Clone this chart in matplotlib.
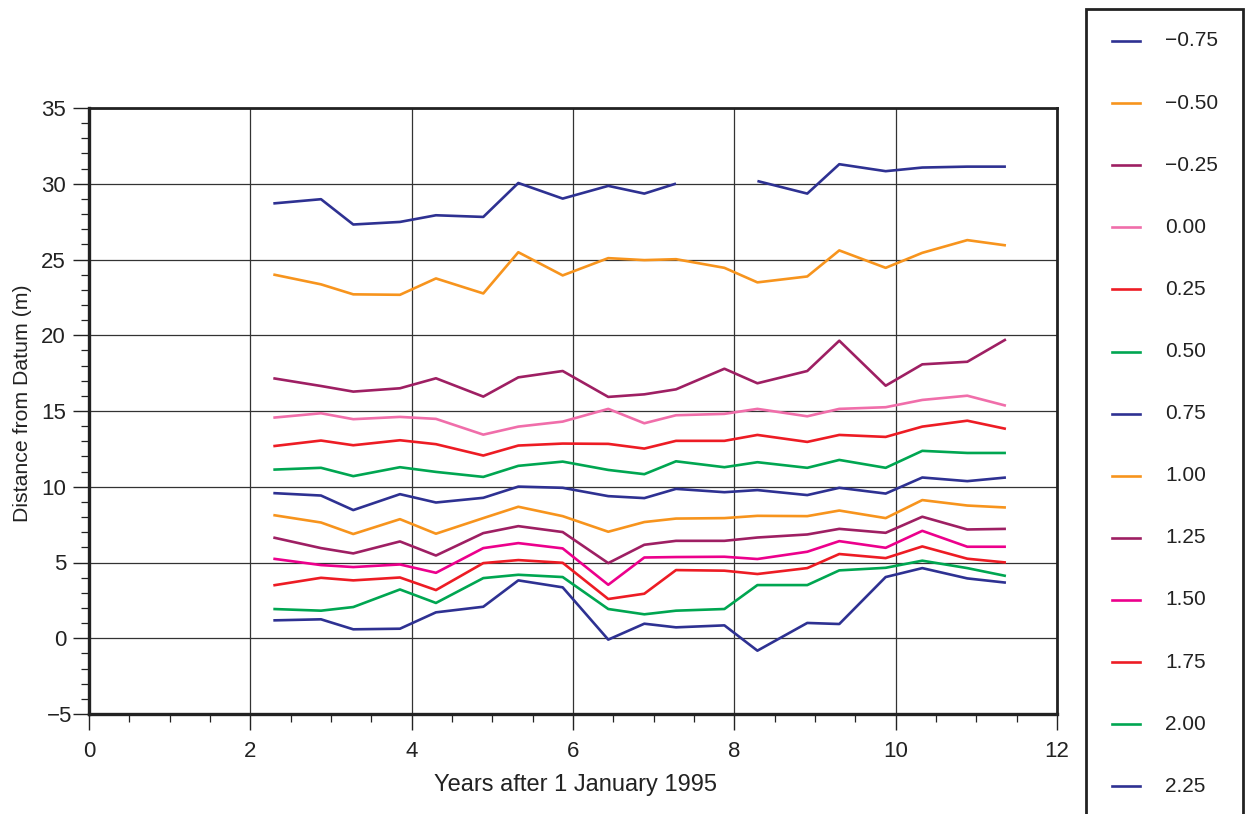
import numpy as np
import matplotlib
matplotlib.use("Agg")
import matplotlib.pyplot as plt
import matplotlib.transforms as mtransforms
from matplotlib.lines import Line2D
from matplotlib.patches import Rectangle

plt.rcParams['font.family'] = ['Liberation Sans', 'DejaVu Sans']

years = [2.285, 2.876, 3.276, 3.855, 4.301, 4.888, 5.322, 5.872, 6.437, 6.884,
         7.277, 7.877, 8.286, 8.904, 9.301, 9.876, 10.330, 10.888, 11.367]

labels = ["\u22120.75", "\u22120.50", "\u22120.25", "0.00", "0.25", "0.50", "0.75",
          "1.00", "1.25", "1.50", "1.75", "2.00", "2.25"]

s_m075 = [28.70, 28.98, 27.31, 27.48, 27.92, 27.81, 30.05, 29.02, 29.86, 29.35,
          30.01, np.nan, 30.18, 29.35, 31.29, 30.83, 31.07, 31.13, 31.13]
s_m050 = [24.01, 23.36, 22.70, 22.67, 23.75, 22.76, 25.48, 23.95, 25.09, 24.96,
          25.02, 24.45, 23.49, 23.88, 25.60, 24.45, 25.44, 26.28, 25.93]
s_m025 = [17.16, 16.65, 16.28, 16.50, 17.16, 15.95, 17.22, 17.64, 15.93, 16.10,
          16.43, 17.79, 16.83, 17.64, 19.64, 16.67, 18.08, 18.25, 19.73]
s_000 = [14.56, 14.85, 14.46, 14.61, 14.48, 13.44, 13.97, 14.30, 15.14, 14.19,
         14.72, 14.81, 15.14, 14.65, 15.14, 15.25, 15.73, 16.01, 15.35]
s_025 = [12.68, 13.05, 12.74, 13.07, 12.81, 12.06, 12.72, 12.85, 12.83, 12.52,
         13.03, 13.03, 13.42, 12.96, 13.42, 13.29, 13.97, 14.36, 13.82]
s_050 = [11.13, 11.25, 10.70, 11.29, 10.98, 10.65, 11.38, 11.66, 11.11, 10.83,
         11.68, 11.29, 11.62, 11.25, 11.77, 11.25, 12.37, 12.23, 12.23]
s_075 = [9.58, 9.42, 8.46, 9.51, 8.96, 9.27, 10.01, 9.93, 9.38, 9.25,
         9.86, 9.64, 9.78, 9.45, 9.93, 9.55, 10.61, 10.37, 10.61]
s_100 = [8.13, 7.64, 6.88, 7.86, 6.90, 7.93, 8.68, 8.06, 7.03, 7.67,
         7.90, 7.93, 8.08, 8.06, 8.43, 7.93, 9.12, 8.76, 8.63]
s_125 = [6.65, 5.95, 5.60, 6.39, 5.46, 6.94, 7.40, 7.01, 4.96, 6.17,
         6.43, 6.43, 6.65, 6.85, 7.22, 6.96, 8.02, 7.18, 7.22]
s_150 = [5.25, 4.83, 4.70, 4.87, 4.32, 5.95, 6.28, 5.93, 3.53, 5.33,
         5.36, 5.38, 5.23, 5.71, 6.41, 5.97, 7.09, 6.04, 6.04]
s_175 = [3.49, 3.99, 3.82, 4.01, 3.18, 4.96, 5.16, 4.98, 2.59, 2.94,
         4.50, 4.46, 4.24, 4.63, 5.56, 5.29, 6.06, 5.25, 5.00]
s_200 = [1.93, 1.82, 2.06, 3.22, 2.33, 3.97, 4.19, 4.04, 1.93, 1.58,
         1.82, 1.93, 3.51, 3.51, 4.48, 4.65, 5.12, 4.63, 4.11]
s_225 = [1.18, 1.25, 0.59, 0.63, 1.71, 2.08, 3.82, 3.36, -0.09, 0.96,
         0.72, 0.85, -0.82, 1.01, 0.94, 4.04, 4.63, 3.95, 3.67]

series = [s_m075, s_m050, s_m025, s_000, s_025, s_050, s_075,
          s_100, s_125, s_150, s_175, s_200, s_225]

NAVY = "#2E3192"
ORANGE = "#F7941D"
MAROON = "#9E1F63"
PINK = "#F06EAA"
RED = "#ED1C24"
GREEN = "#00A651"
MAGENTA = "#EC008C"
colors = [NAVY, ORANGE, MAROON, PINK, RED, GREEN, NAVY,
          ORANGE, MAROON, MAGENTA, RED, GREEN, NAVY]

W, H = 1252, 814
fig = plt.figure(figsize=(W / 100, H / 100), dpi=100)
ax = fig.add_axes([89 / W, 1 - 714 / H, (1057 - 89) / W, (714 - 108) / H])

LW = 1.9
for ys, c, lab in zip(series, colors, labels):
    ax.plot(years, ys, color=c, lw=LW, label=lab, solid_capstyle='butt', zorder=3)

ax.set_xlim(0, 12)
ax.set_ylim(-5, 35)
ax.set_xticks(np.arange(0, 13, 2))
ax.set_yticks(np.arange(-5, 36, 5))
ax.set_xticks(np.arange(0, 12.01, 0.5), minor=True)
ax.set_yticks(np.arange(-5, 35.01, 1), minor=True)
ax.set_yticklabels(["\u22125"] + [str(v) for v in range(0, 36, 5)])
ax.grid(True, which='major', color='#333333', lw=0.9, zorder=1)
ax.tick_params(which='major', direction='out', length=11.5, width=1.0,
               labelsize=16, colors='#222222')
ax.tick_params(axis='x', which='major', pad=8)
ax.tick_params(axis='y', which='major', pad=5)
ax.tick_params(which='minor', direction='out', length=6, width=0.9, colors='#222222')
for side in ['left', 'bottom']:
    ax.spines[side].set_linewidth(2.4)
for side in ['top', 'right']:
    ax.spines[side].set_linewidth(2.0)
for sp in ax.spines.values():
    sp.set_color('#222222')

# the "−5" label sits right against its tick in the reference
neg_lab = ax.get_yticklabels()[0]
neg_lab.set_transform(neg_lab.get_transform() +
                      mtransforms.ScaledTranslation(6 / 100, 0, fig.dpi_scale_trans))

ax.set_xlabel("Years after 1 January 1995", fontsize=17, color='#222222')
ax.xaxis.set_label_coords((575 - 89) / (1057 - 89), (714 - 785) / (714 - 108))
ax.xaxis.label.set_va('center')
ax.set_ylabel("Distance from Datum (m)", fontsize=15.3, color='#222222')
ax.yaxis.set_label_coords((23 - 89) / (1057 - 89), (714 - 403.5) / (714 - 108))
ax.yaxis.label.set_va('center')

# legend box (extends beyond bottom of figure)
lx0, lx1 = 1086 / W, 1243 / W
ly_top = 1 - 9 / H
fig.patches.append(Rectangle((lx0, -0.05), lx1 - lx0, ly_top + 0.05,
                             transform=fig.transFigure, fill=False,
                             edgecolor='#222222', lw=2.0))
for i, (c, lab) in enumerate(zip(colors, labels)):
    yp = 1 - (41 + i * 62.1) / H
    fig.add_artist(Line2D([1112 / W, 1140 / W], [yp, yp], transform=fig.transFigure,
                          color=c, lw=LW))
    fig.text(1165 / W, yp, lab, fontsize=15, color='#222222', va='center', ha='left')

fig.savefig("out.png", dpi=100)
